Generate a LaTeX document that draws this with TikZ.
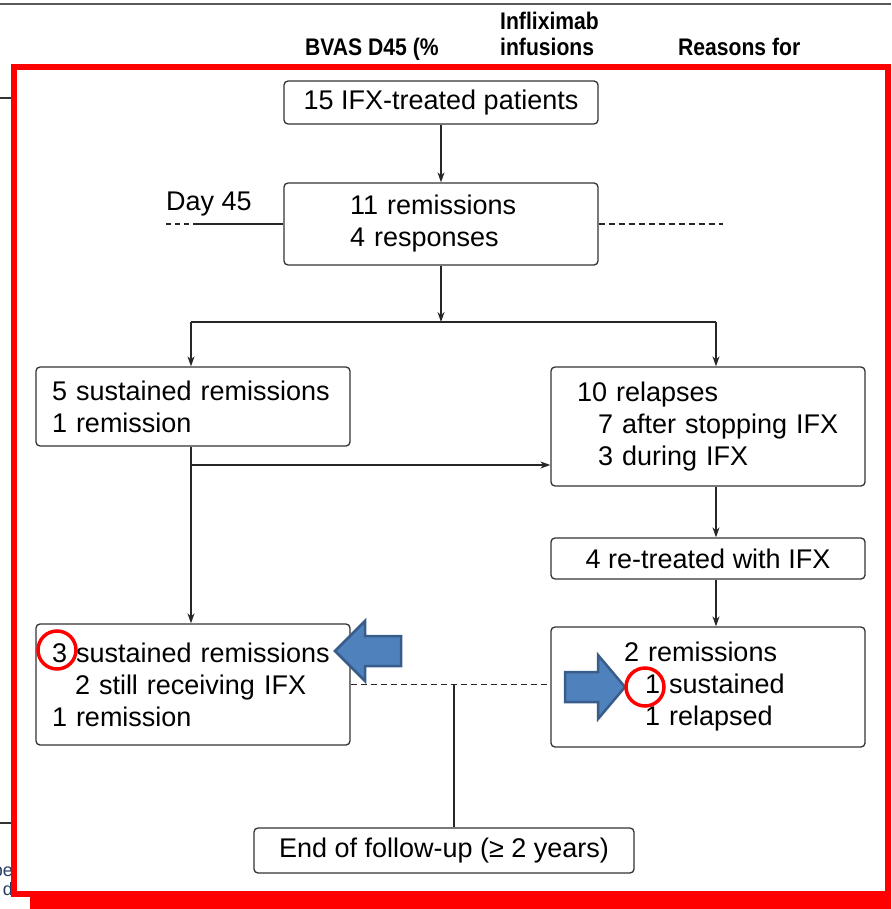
\documentclass[tikz,border=0pt]{standalone}
\usepackage{fontspec}
\setmainfont{Liberation Sans}
\usepackage{graphicx}
\usetikzlibrary{arrows.meta}

\begin{document}
\begin{tikzpicture}[x=1pt,y=1pt,yscale=-1,xscale=1,
  box/.style={draw=black!80, line width=1.3pt, rounded corners=4pt, inner ysep=0pt, font=\fontsize{27}{32}\selectfont},
  link/.style={draw=black!85, line width=1.3pt},
  arr/.style={link, -{Stealth[length=10pt,width=7pt]}},
  head/.style={anchor=base west, inner sep=0pt, font=\fontsize{24}{28}\selectfont\bfseries},
  callout/.style={fill={rgb,255:red,79;green,129;blue,189}, draw={rgb,255:red,56;green,93;blue,138}, line width=2.5pt, line join=miter},
  ring/.style={draw={rgb,255:red,255;green,0;blue,0}, line width=3.5pt}
]
\useasboundingbox (0,0) rectangle (891,909);

%Straight Lines (table rules behind the frame)
\draw [line width=2.5pt, color=black!65] (0,4) -- (891,4);
\draw [line width=2.5pt, color=black!80] (0,98) -- (14,98);
\draw [line width=2.5pt, color=black!80] (0,823) -- (14,823);

% Text Node (column heads)
\node (bvas) [head] at (305,56) {\scalebox{0.88}[1]{BVAS D45 (\%}};
\node (infl) [head] at (500,30) {\scalebox{0.88}[1]{Infliximab}};
\node (infu) [head] at (500,56) {\scalebox{0.88}[1]{infusions}};
\node (reas) [head] at (678,56) {\scalebox{0.88}[1]{Reasons for}};
% Text Node (cut text at the left)
\node (frag1) [anchor=east, inner sep=0pt, font=\fontsize{18}{18}\selectfont, text={rgb,255:red,40;green,60;blue,100}] at (13,870) {be};
\node (frag2) [anchor=east, inner sep=0pt, font=\fontsize{18}{18}\selectfont, text={rgb,255:red,40;green,60;blue,100}] at (13,889) {d};

% Boxes
\node (pat15) [box, minimum width=314pt, minimum height=43pt] at (441,102.5) {15 IFX-treated patients};
\node (day45) [box, minimum width=314pt, minimum height=82pt, inner xsep=66pt, text width=182pt, align=left] at (441,224) {11 remissions\\4 responses};
\node (sust5) [box, minimum width=314pt, minimum height=79pt, inner xsep=16pt, text width=282pt, align=left] at (193,406.5) {5 sustained remissions\\1 remission};
\node (rel10) [box, minimum width=314pt, minimum height=119pt, inner xsep=26pt, text width=262pt, align=left] at (708,426.5) {10 relapses\\\hspace*{21pt}7 after stopping IFX\\\hspace*{21pt}3 during IFX};
\node (retr4) [box, minimum width=314pt, minimum height=41pt] at (708,558.5) {4 re-treated with IFX};
\node (sust3) [box, minimum width=314pt, minimum height=121pt, inner xsep=16pt, text width=282pt, align=left] at (193,684.5) {3 sustained remissions\\\hspace*{23pt}2 still receiving IFX\\1 remission};
\node (rem2) [box, minimum width=314pt, minimum height=120pt, inner xsep=73pt, text width=168pt, align=left] at (708,687) {2 remissions\\\hspace*{21pt}1 sustained\\\hspace*{21pt}1 relapsed};
\node (fup) [box, minimum width=380pt, minimum height=45pt] at (444,850.5) {End of follow-up (≥ 2 years)};
% Text Node
\node (d45) [anchor=west, inner sep=0pt, font=\fontsize{27}{32}\selectfont] at (166,204) {Day 45};

% Coordinates
\coordinate (dayL) at (166,224);
\coordinate (dayM) at (196,224);
\coordinate (dayR) at (723,224);
\coordinate (split) at (441,322);
\coordinate (splitL) at (191,322);
\coordinate (splitR) at (716,322);
\coordinate (branch) at (191,465);
\coordinate (join) at (454,684.5);

%Straight Lines
\draw [link, dash pattern=on 5pt off 4pt] (dayL) -- (dayM);
\draw [link] (dayM) -- (day45.west);
\draw [link, dash pattern=on 6pt off 4pt] (day45.east) -- (dayR);
\draw [arr] (pat15) -- (day45);
\draw [arr] (day45) -- (split);
\draw [link] (splitL) -- (splitR);
\draw [arr] (splitL) -- (splitL |- sust5.north);
\draw [arr] (splitR) -- (splitR |- rel10.north);
\draw [arr] (splitL |- sust5.south) -- (splitL |- sust3.north);
\draw [arr] (branch) -- (branch -| rel10.west);
\draw [arr] (splitR |- rel10.south) -- (splitR |- retr4.north);
\draw [arr] (splitR |- retr4.south) -- (splitR |- rem2.north);
\draw [link, dash pattern=on 6pt off 4pt] (sust3.east) -- (sust3.east -| rem2.west);
\draw [link] (join) -- (join |- fup.north);

%Shape: Red frame
\draw [color={rgb,255:red,255;green,0;blue,0}, line width=6pt] (14,67.5) rectangle (888,894);
\fill [color={rgb,255:red,255;green,0;blue,0}] (30,894) rectangle (891,909);

%Shape: Block arrows
\draw [callout] (335,651) -- (365,621) -- (365,636) -- (401,636) -- (401,666) -- (365,666) -- (365,681) -- cycle;
\draw [callout] (625,687) -- (598,655) -- (598,672) -- (565,672) -- (565,702) -- (598,702) -- (598,719) -- cycle;

%Shape: Circles
\draw [ring] (57,650) circle (19);
\draw [ring] (645,687) circle (19);

\end{tikzpicture}
\end{document}
